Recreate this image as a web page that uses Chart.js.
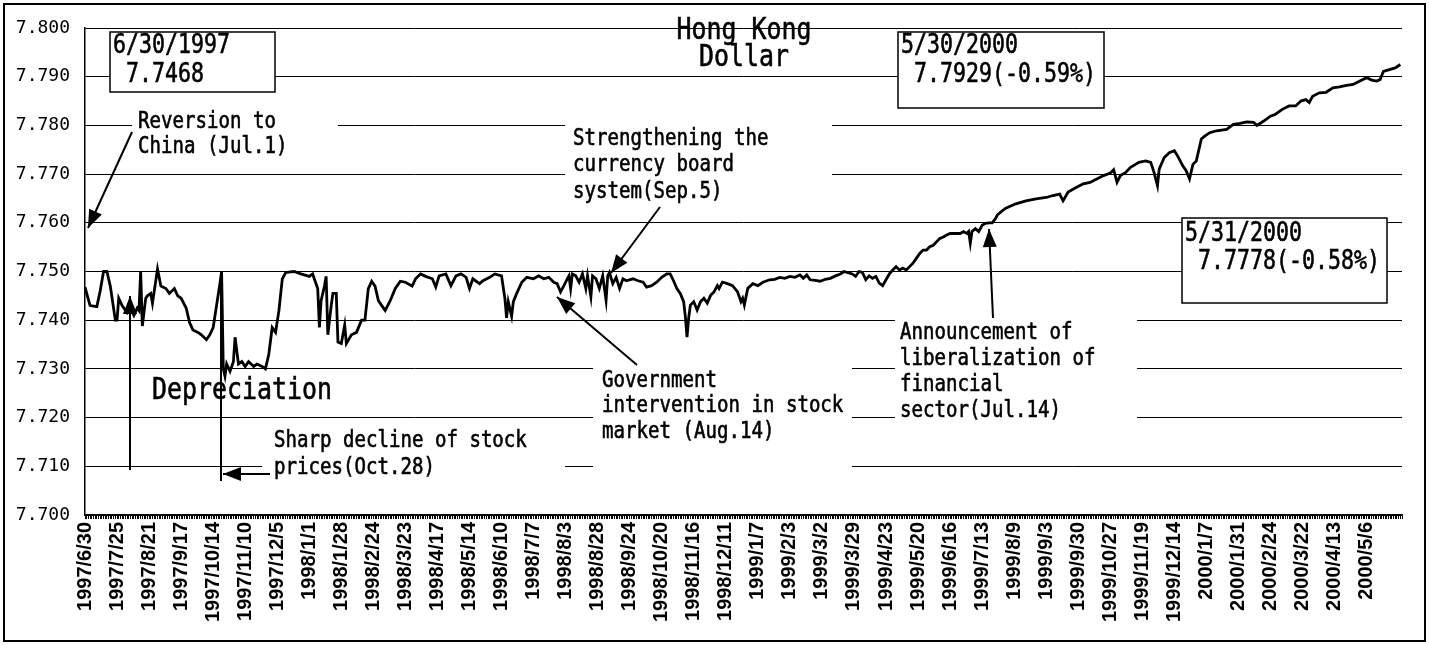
<!DOCTYPE html>
<html>
<head>
<meta charset="utf-8">
<title>Hong Kong Dollar</title>
<script src="https://cdn.jsdelivr.net/npm/chart.js@4.4.1/dist/chart.umd.min.js"></script>
<style>
  html, body { margin: 0; padding: 0; background: #fff; }
  #wrap { width: 1429px; height: 645px; }
</style>
</head>
<body>
<div id="wrap"><canvas id="hkdChart"></canvas></div>
<script>
// trading day index (0 = 1997/6/30)
const dayIndex = [
  0, 3, 7, 9, 11, 13, 15, 18, 19, 20, 22, 25, 27, 29, 31, 32, 33, 34, 36, 37,
  39, 40, 43, 45, 48, 50, 53, 55, 57, 60, 62, 64, 67, 69, 72, 74, 76, 78, 80, 81,
  82, 83, 84, 86, 88, 89, 91, 93, 95, 97, 100, 102, 105, 107, 109, 111, 113, 115, 117, 119,
  124, 128, 133, 135, 138, 139, 140, 142, 143, 144, 146, 147, 149, 150, 152, 154, 155, 158, 161, 164,
  166, 168, 170, 172, 174, 176, 178, 181, 184, 187, 190, 194, 196, 199,
  202, 206, 208, 210, 214, 217, 220, 223, 226, 228, 230, 234, 236, 240, 243, 247, 249, 250, 251, 253,
  254, 256, 259, 262, 266, 269, 272, 275, 278, 280, 282, 284, 286, 287, 288, 289, 291, 293, 295, 297,
  298, 300, 301, 303, 305, 307, 309, 310, 311, 313, 315, 317, 319, 321, 325, 328, 331, 333, 336, 339,
  342, 345, 347, 349, 351, 353, 355, 356, 357, 358, 359, 361, 363, 365, 367, 369, 371, 373, 375, 376,
  378, 381, 384, 387, 389, 390, 391, 393, 396, 399, 402,
  406, 409, 412, 415, 418, 421, 424, 426, 428, 430, 433, 436, 439, 442, 445, 448, 450, 453, 455, 457,
  459, 461, 463, 465, 467, 469, 471, 473, 475, 477, 479, 481, 483, 485, 487, 489, 491, 493, 495, 497,
  499, 501, 503, 505, 507, 509, 511, 513, 515, 517, 519, 521, 523, 524, 525, 526, 528, 530, 532, 534,
  536, 538, 540, 541,
  543, 546, 552, 558, 564, 570, 574, 578, 580, 583, 588, 592, 596, 600, 604, 608, 610, 612, 614, 617,
  620, 625, 629, 632, 634, 636, 637, 640, 643, 646, 648, 651, 653, 655, 657, 659, 662, 664, 667, 671,
  677, 681, 685, 689, 693, 695, 699, 703, 706, 710, 714, 718, 721, 724, 726, 728, 732, 736, 740, 744,
  748, 752, 756, 760, 763, 766, 768, 770, 774, 777, 780
];

// HK$ per US$
const hkdRate = [
  7.7468, 7.7430, 7.7428, 7.7460, 7.7500, 7.7500, 7.7470, 7.7400, 7.7400, 7.7445, 7.7430, 7.7415, 7.7425, 7.7410, 7.7425, 7.7420, 7.7500, 7.7388, 7.7445, 7.7450,
  7.7455, 7.7435, 7.7505, 7.7470, 7.7465, 7.7455, 7.7465, 7.7450, 7.7445, 7.7425, 7.7395, 7.7380, 7.7375, 7.7370, 7.7360, 7.7370, 7.7385, 7.7430, 7.7475, 7.7500,
  7.7300, 7.7285, 7.7310, 7.7295, 7.7315, 7.7365, 7.7310, 7.7315, 7.7305, 7.7315, 7.7305, 7.7310, 7.7305, 7.7300, 7.7330, 7.7385, 7.7375, 7.7420, 7.7485, 7.7498,
  7.7500, 7.7495, 7.7490, 7.7495, 7.7465, 7.7385, 7.7440, 7.7470, 7.7490, 7.7370, 7.7430, 7.7455, 7.7455, 7.7355, 7.7352, 7.7390, 7.7352, 7.7370, 7.7375, 7.7400,
  7.7400, 7.7465, 7.7480, 7.7470, 7.7440, 7.7430, 7.7420, 7.7440, 7.7465, 7.7480, 7.7478, 7.7470, 7.7485, 7.7495,
  7.7490, 7.7485, 7.7468, 7.7491, 7.7495, 7.7471, 7.7491, 7.7495, 7.7488, 7.7465, 7.7485, 7.7475, 7.7481, 7.7488, 7.7495, 7.7491, 7.7445, 7.7405, 7.7438, 7.7408,
  7.7438, 7.7455, 7.7478, 7.7488, 7.7485, 7.7491, 7.7485, 7.7488, 7.7478, 7.7475, 7.7458, 7.7471, 7.7485, 7.7491, 7.7465, 7.7495, 7.7491, 7.7478, 7.7495, 7.7465,
  7.7491, 7.7448, 7.7491, 7.7485, 7.7465, 7.7491, 7.7441, 7.7491, 7.7498, 7.7475, 7.7488, 7.7465, 7.7485, 7.7481, 7.7485, 7.7481, 7.7478, 7.7468, 7.7471, 7.7478,
  7.7488, 7.7495, 7.7495, 7.7481, 7.7465, 7.7455, 7.7438, 7.7408, 7.7365, 7.7405, 7.7431, 7.7438, 7.7421, 7.7438, 7.7445, 7.7435, 7.7451, 7.7458, 7.7471, 7.7465,
  7.7478, 7.7475, 7.7471, 7.7458, 7.7438, 7.7445, 7.7431, 7.7465, 7.7475, 7.7471, 7.7478,
  7.7483, 7.7484, 7.7488, 7.7486, 7.7490, 7.7488, 7.7493, 7.7486, 7.7493, 7.7483, 7.7482, 7.7480, 7.7484, 7.7486, 7.7491, 7.7495, 7.7500, 7.7497, 7.7495, 7.7490,
  7.7500, 7.7498, 7.7483, 7.7491, 7.7486, 7.7490, 7.7476, 7.7471, 7.7483, 7.7495, 7.7503, 7.7510, 7.7503, 7.7507, 7.7503, 7.7510, 7.7517, 7.7527, 7.7537, 7.7544,
  7.7544, 7.7551, 7.7554, 7.7561, 7.7568, 7.7571, 7.7575, 7.7578, 7.7578, 7.7578, 7.7578, 7.7582, 7.7578, 7.7582, 7.7558, 7.7582, 7.7588, 7.7582, 7.7595, 7.7599,
  7.7600, 7.7600, 7.7609, 7.7616,
  7.7622, 7.7630, 7.7639, 7.7645, 7.7649, 7.7652, 7.7656, 7.7659, 7.7645, 7.7663, 7.7673, 7.7680, 7.7683, 7.7690, 7.7697, 7.7702, 7.7709, 7.7683, 7.7697, 7.7703,
  7.7714, 7.7724, 7.7727, 7.7724, 7.7703, 7.7676, 7.7710, 7.7734, 7.7744, 7.7748, 7.7737, 7.7717, 7.7707, 7.7690, 7.7720, 7.7727, 7.7772, 7.7778, 7.7785, 7.7789,
  7.7792, 7.7802, 7.7804, 7.7807, 7.7806, 7.7800, 7.7809, 7.7819, 7.7823, 7.7833, 7.7840, 7.7840, 7.7850, 7.7853, 7.7847, 7.7860, 7.7867, 7.7868, 7.7877, 7.7879,
  7.7882, 7.7884, 7.7891, 7.7898, 7.7893, 7.7891, 7.7894, 7.7911, 7.7915, 7.7918, 7.7925
];

// category labels, one every 19 trading days
const tickDates = [
  '1997/6/30', '1997/7/25', '1997/8/21', '1997/9/17', '1997/10/14', '1997/11/10', '1997/12/5',
  '1998/1/1', '1998/1/28', '1998/2/24', '1998/3/23', '1998/4/17', '1998/5/14', '1998/6/10',
  '1998/7/7', '1998/8/3', '1998/8/28', '1998/9/24', '1998/10/20', '1998/11/16', '1998/12/11',
  '1999/1/7', '1999/2/3', '1999/3/2', '1999/3/29', '1999/4/23', '1999/5/20', '1999/6/16',
  '1999/7/13', '1999/8/9', '1999/9/3', '1999/9/30', '1999/10/27', '1999/11/19', '1999/12/14',
  '2000/1/7', '2000/1/31', '2000/2/24', '2000/3/22', '2000/4/13', '2000/5/6'
];
const tickEvery = 19;
const lastDay = 781;

const yMin = 7.700;
const yMax = 7.800;
const yStep = 0.010;

// ---- annotation layout (pixels) ----
const whiteBoxes = [
  { x: 110, y: 32, w: 165, h: 60, border: true },
  { x: 898, y: 32, w: 206, h: 76, border: true },
  { x: 1182, y: 218, w: 205, h: 85, border: true },
  { x: 132, y: 108, w: 206, h: 52 },
  { x: 565, y: 118, w: 267, h: 90 },
  { x: 593, y: 362, w: 259, h: 116 },
  { x: 262, y: 426, w: 303, h: 56 },
  { x: 895, y: 316, w: 242, h: 124 }
];

const notes = [
  { lines: ['6/30/1997', ' 7.7468'], x: 113, y: 46, size: 26, lh: 29 },
  { lines: ['5/30/2000', ' 7.7929(-0.59%)'], x: 901, y: 46, size: 26, lh: 29 },
  { lines: ['5/31/2000', ' 7.7778(-0.58%)'], x: 1185, y: 234, size: 26, lh: 28 },
  { lines: ['Reversion to', 'China (Jul.1)'], x: 138, y: 122, size: 23, lh: 25 },
  { lines: ['Strengthening the', 'currency board', 'system(Sep.5)'], x: 573, y: 139, size: 23, lh: 26.5 },
  { lines: ['Government', 'intervention in stock', 'market (Aug.14)'], x: 602, y: 381, size: 23, lh: 25.5 },
  { lines: ['Sharp decline of stock', 'prices(Oct.28)'], x: 274, y: 441, size: 23, lh: 27 },
  { lines: ['Announcement of', 'liberalization of', 'financial', 'sector(Jul.14)'], x: 900, y: 333, size: 23, lh: 26 },
  { lines: ['Hong Kong', 'Dollar'], x: 744, y: 31, size: 30, lh: 27, center: true },
  { lines: ['Depreciation'], x: 152, y: 391, size: 30 }
];

const arrows = [
  [132, 132, 88, 228, true],
  [660, 207, 611, 273, true],
  [637, 365, 557, 297, true],
  [993, 318, 989, 229, true],
  [130, 470, 130, 296, true],
  [221, 481, 221, 271, false],
  [270, 474, 223, 474, true]
];

function drawText(ctx, str, x, y, size, center) {
  ctx.save();
  ctx.translate(x, y);
  ctx.scale(0.83, 1);
  ctx.font = size + 'px "DejaVu Sans Mono"';
  ctx.textBaseline = 'middle';
  ctx.textAlign = center ? 'center' : 'left';
  ctx.fillStyle = '#000';
  ctx.strokeStyle = '#000';
  ctx.lineWidth = 0.6;
  ctx.fillText(str, 0, 0);
  ctx.strokeText(str, 0, 0);
  ctx.restore();
}

function drawArrow(ctx, x1, y1, x2, y2, head) {
  ctx.save();
  ctx.strokeStyle = '#000';
  ctx.fillStyle = '#000';
  ctx.lineWidth = 2;
  ctx.beginPath();
  ctx.moveTo(x1, y1);
  ctx.lineTo(x2, y2);
  ctx.stroke();
  if (head) {
    const a = Math.atan2(y2 - y1, x2 - x1);
    const L = 18, W = 7;
    ctx.beginPath();
    ctx.moveTo(x2, y2);
    ctx.lineTo(x2 - L * Math.cos(a) + W * Math.sin(a), y2 - L * Math.sin(a) - W * Math.cos(a));
    ctx.lineTo(x2 - L * Math.cos(a) - W * Math.sin(a), y2 - L * Math.sin(a) + W * Math.cos(a));
    ctx.closePath();
    ctx.fill();
  }
  ctx.restore();
}

const annotationPlugin = {
  id: 'hkdNotes',
  beforeDraw(chart) {
    const ctx = chart.ctx;
    ctx.save();
    ctx.fillStyle = '#fff';
    ctx.fillRect(0, 0, chart.width, chart.height);
    ctx.restore();
  },
  beforeDatasetsDraw(chart) {
    const ctx = chart.ctx;
    ctx.save();
    whiteBoxes.forEach(b => {
      ctx.fillStyle = '#fff';
      ctx.fillRect(b.x, b.y, b.w, b.h);
      if (b.border) {
        ctx.strokeStyle = '#000';
        ctx.lineWidth = 1.5;
        ctx.strokeRect(b.x, b.y, b.w, b.h);
      }
    });
    ctx.restore();
  },
  afterDatasetsDraw(chart) {
    const ctx = chart.ctx;
    notes.forEach(n => {
      n.lines.forEach((s, i) => drawText(ctx, s, n.x, n.y + i * (n.lh || 0), n.size, n.center));
    });
    arrows.forEach(a => drawArrow(ctx, a[0], a[1], a[2], a[3], a[4]));
  },
  afterDraw(chart) {
    const ctx = chart.ctx;
    ctx.save();
    ctx.strokeStyle = '#000';
    ctx.lineWidth = 2;
    ctx.strokeRect(4, 4, chart.width - 8, chart.height - 8);
    ctx.restore();
  }
};

const ctx = document.getElementById('hkdChart');
new Chart(ctx, {
  type: 'line',
  data: {
    datasets: [{
      label: 'Hong Kong Dollar',
      data: dayIndex.map((d, i) => ({ x: d, y: hkdRate[i] })),
      borderColor: '#000',
      borderWidth: 2.8,
      pointRadius: 0,
      tension: 0,
      fill: false
    }]
  },
  options: {
    responsive: true,
    maintainAspectRatio: false,
    animation: false,
    events: [],
    layout: { padding: { top: 28, right: 27, bottom: 0, left: 0 } },
    plugins: { legend: { display: false }, tooltip: { enabled: false } },
    scales: {
      x: {
        type: 'linear',
        min: 0,
        max: lastDay,
        afterBuildTicks: s => {
          const t = [];
          for (let i = 0; i <= lastDay; i++) t.push({ value: i });
          s.ticks = t;
        },
        afterFit: s => { s.height = 130; },
        border: { display: true, color: '#000', width: 1.5 },
        grid: { drawOnChartArea: false, drawTicks: true, tickLength: 4, color: '#000', lineWidth: 1 },
        ticks: {
          autoSkip: false,
          maxRotation: 90,
          minRotation: 90,
          padding: 3,
          color: '#000',
          font: { family: 'Liberation Sans', size: 20, weight: 'bold' },
          callback: v => (v % tickEvery === 0 && tickDates[v / tickEvery]) ? tickDates[v / tickEvery] : ''
        }
      },
      y: {
        min: yMin,
        max: yMax,
        afterFit: s => { s.width = 85; },
        border: { display: true, color: '#000', width: 1.5 },
        grid: { color: '#000', lineWidth: 1, drawTicks: false },
        ticks: {
          stepSize: yStep,
          padding: 15,
          color: '#000',
          font: { family: 'DejaVu Sans Mono', size: 18 },
          callback: v => v.toFixed(3)
        }
      }
    }
  },
  plugins: [annotationPlugin]
});
</script>
</body>
</html>
